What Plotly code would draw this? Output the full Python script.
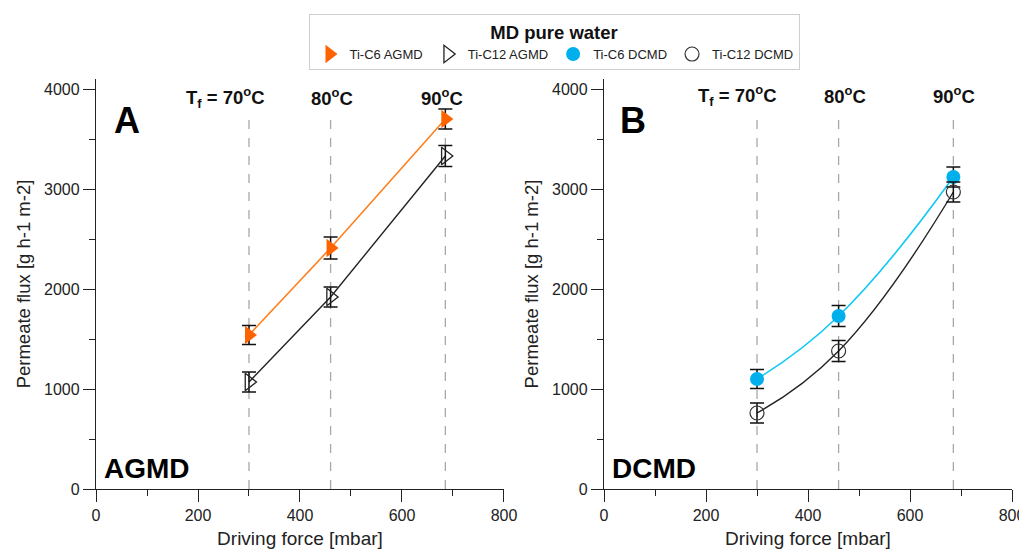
import plotly.graph_objects as go
from plotly.subplots import make_subplots

# Data
driving_force = [300, 460, 685]
temps_labels = ["T<sub>f</sub> = 70<sup>o</sup>C", "80<sup>o</sup>C", "90<sup>o</sup>C"]
label_x_left = [253, 463, 678]
label_x_right = [261, 472, 686]

c6_agmd = [1540, 2410, 3700]
c6_agmd_err = [95, 110, 100]
c12_agmd = [1070, 1920, 3330]
c12_agmd_err = [100, 100, 105]

c6_dcmd = [1100, 1730, 3120]
c6_dcmd_err = [95, 105, 100]
c12_dcmd = [760, 1380, 2970]
c12_dcmd_err = [100, 105, 100]

FONT = "Liberation Sans, Arial, sans-serif"
ORANGE = "#ff6300"
ORANGE_LINE = "#ff7f1e"
CYAN = "#00b0ec"
CYAN_LINE = "#10c8f4"

fig = make_subplots(rows=1, cols=2, horizontal_spacing=0.1092)

def err(arr):
    return dict(type="data", array=arr, color="#111111", thickness=1.5, width=7, visible=True)

# lines (no legend)
fig.add_trace(go.Scatter(x=driving_force, y=c6_agmd, mode="lines",
                         line=dict(color=ORANGE_LINE, width=1.6), showlegend=False, hoverinfo="skip"), 1, 1)
fig.add_trace(go.Scatter(x=driving_force, y=c12_agmd, mode="lines",
                         line=dict(color="#222222", width=1.4), showlegend=False, hoverinfo="skip"), 1, 1)
fig.add_trace(go.Scatter(x=driving_force, y=c6_dcmd, mode="lines",
                         line=dict(color=CYAN_LINE, width=1.6, shape="spline", smoothing=1.3),
                         showlegend=False, hoverinfo="skip"), 1, 2)
fig.add_trace(go.Scatter(x=driving_force, y=c12_dcmd, mode="lines",
                         line=dict(color="#222222", width=1.4, shape="spline", smoothing=1.3),
                         showlegend=False, hoverinfo="skip"), 1, 2)

# markers with error bars
fig.add_trace(go.Scatter(x=driving_force, y=c6_agmd, mode="markers", name="Ti-C6 AGMD",
                         marker=dict(symbol="triangle-right", size=16, color=ORANGE),
                         error_y=err(c6_agmd_err)), 1, 1)
fig.add_trace(go.Scatter(x=driving_force, y=c12_agmd, mode="markers", name="Ti-C12 AGMD",
                         marker=dict(symbol="triangle-right-open", size=15, color="#222222",
                                     line=dict(width=1.3, color="#222222")),
                         error_y=err(c12_agmd_err)), 1, 1)
fig.add_trace(go.Scatter(x=driving_force, y=c6_dcmd, mode="markers", name="Ti-C6 DCMD",
                         marker=dict(symbol="circle", size=14, color=CYAN),
                         error_y=err(c6_dcmd_err)), 1, 2)
fig.add_trace(go.Scatter(x=driving_force, y=c12_dcmd, mode="markers", name="Ti-C12 DCMD",
                         marker=dict(symbol="circle-open", size=14, color="#333333",
                                     line=dict(width=1.2, color="#333333")),
                         error_y=err(c12_dcmd_err)), 1, 2)

axis_common = dict(showline=True, linecolor="#222222", linewidth=1.3, showgrid=False,
                   zeroline=False, ticks="outside", tickcolor="#222222", tickwidth=1.3,
                   automargin=False,
                   tickfont=dict(family=FONT, size=16, color="#222222"))

for col in (1, 2):
    fig.update_xaxes(range=[0, 800], dtick=200, ticklen=12,
                     minor=dict(dtick=100, ticks="outside", ticklen=6, tickcolor="#222222", tickwidth=1.3),
                     title=dict(text="Driving force [mbar]", font=dict(family=FONT, size=19, color="#222222"),
                                standoff=8),
                     row=1, col=col, **axis_common)
    fig.update_yaxes(range=[0, 4100], dtick=1000, ticklen=12,
                     minor=dict(dtick=500, ticks="outside", ticklen=6, tickcolor="#222222", tickwidth=1.3),
                     title=dict(text="Permeate flux [g h-1 m-2]", font=dict(family=FONT, size=18.5, color="#222222"),
                                standoff=8),
                     row=1, col=col, **axis_common)

# dashed reference lines
for xref, yref, top in (("x", "y", 3720), ("x2", "y2", 3770)):
    for xv in driving_force:
        fig.add_shape(type="line", xref=xref, yref=yref, x0=xv, x1=xv, y0=0, y1=top,
                      line=dict(color="#a8a8a8", width=1.3, dash="dash"), layer="below")

annotations = []
for xref, yref, xs, yv in (("x", "y", label_x_left, 3920), ("x2", "y2", label_x_right, 3940)):
    for xv, txt in zip(xs, temps_labels):
        annotations.append(dict(x=xv, y=yv, xref=xref, yref=yref, text="<b>" + txt + "</b>",
                                showarrow=False, font=dict(family=FONT, size=18.5, color="#111111")))

annotations += [
    dict(x=61, y=3690, xref="x", yref="y", text="<b>A</b>", showarrow=False,
         font=dict(family=FONT, size=36, color="#000000")),
    dict(x=57, y=3690, xref="x2", yref="y2", text="<b>B</b>", showarrow=False,
         font=dict(family=FONT, size=36, color="#000000")),
    dict(x=12, y=210, xref="x", yref="y", text="<b>AGMD</b>", showarrow=False, xanchor="left",
         font=dict(family=FONT, size=28, color="#000000")),
    dict(x=12, y=210, xref="x2", yref="y2", text="<b>DCMD</b>", showarrow=False, xanchor="left",
         font=dict(family=FONT, size=28, color="#000000")),
]

fig.update_layout(
    width=1027, height=549,
    margin=dict(l=88, r=23, t=71, b=68, autoexpand=False),
    paper_bgcolor="white", plot_bgcolor="white",
    font=dict(family=FONT, color="#222222"),
    annotations=annotations,
    showlegend=True,
    legend=dict(orientation="h", x=0.5, xanchor="center", y=1.1585, yanchor="top",
                bordercolor="#cfcfcf", borderwidth=1, bgcolor="white",
                font=dict(family=FONT, size=13, color="#222222"),
                title=dict(text="<b>MD pure water</b>", side="top center",
                           font=dict(family=FONT, size=18.5, color="#111111")),
                itemwidth=30, tracegroupgap=0),
)

fig.write_html("out.html")
